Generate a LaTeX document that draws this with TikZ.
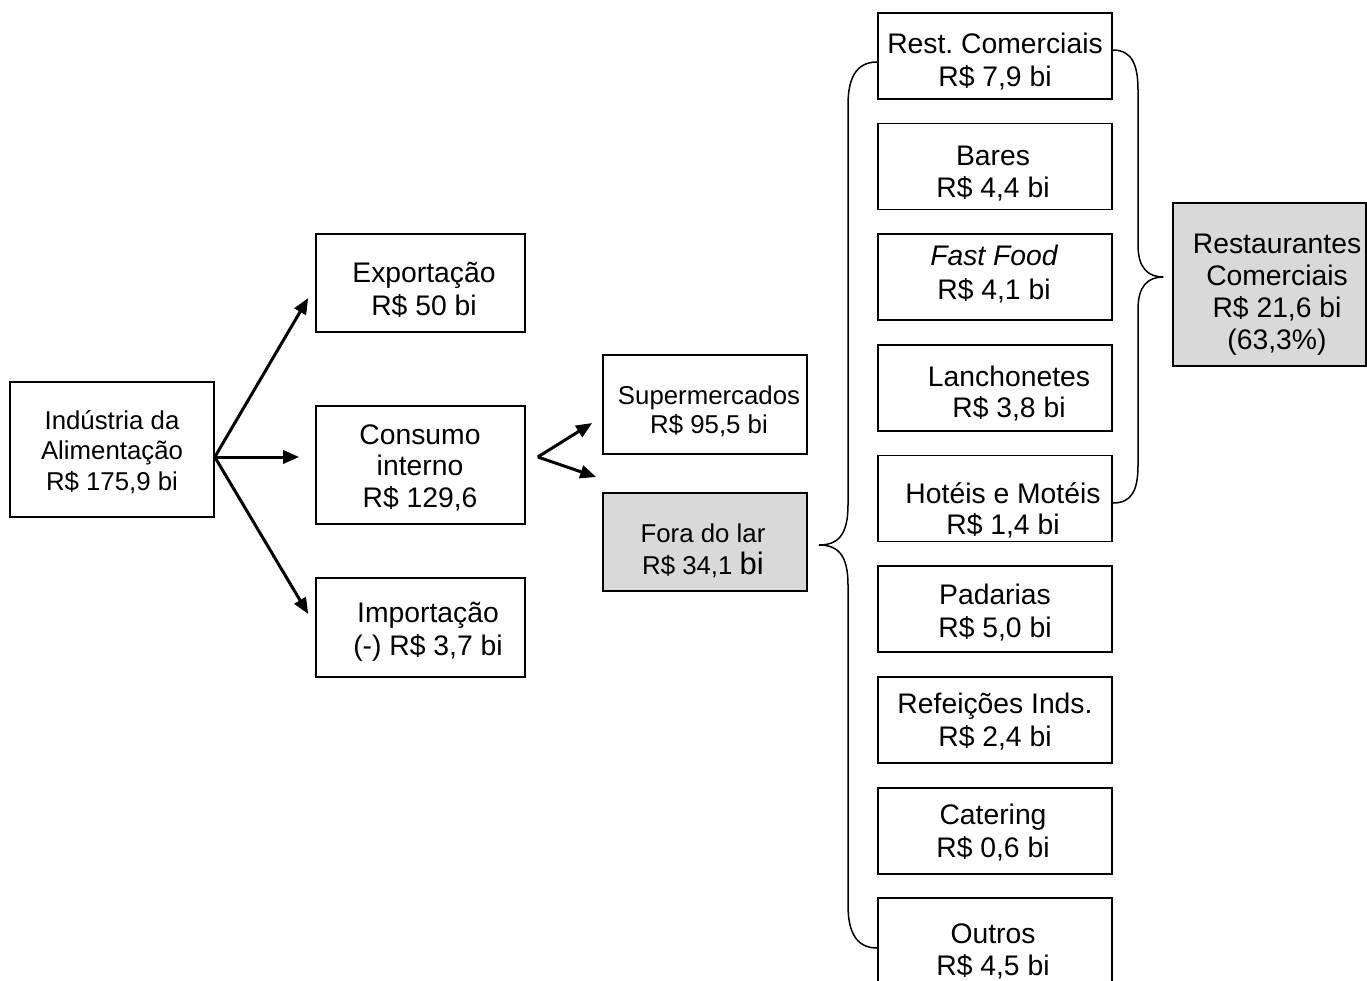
\documentclass[tikz,border=0pt]{standalone}
\usepackage{fontspec}
\setmainfont{Liberation Sans}
\usetikzlibrary{arrows.meta,calc}
\definecolor{boxgray}{HTML}{D9D9D9}
\frenchspacing
\begin{document}
\begin{tikzpicture}[x=1pt,y=-1pt,
  box/.style={draw=black, line width=1.6pt, inner sep=0pt},
  midbox/.style={box, minimum width=209pt, minimum height=98pt},
  colbox/.style={box, minimum width=234pt, minimum height=86pt},
  bigtxt/.style={align=center, inner sep=0pt, font=\fontsize{28.3}{32.5}\selectfont},
  smalltxt/.style={align=center, inner sep=0pt, font=\fontsize{25.8}{30}\selectfont},
  arr/.style={line width=3pt, -{Triangle[length=16pt,width=13pt]}},
  brace/.style={line width=1.5pt}]
\useasboundingbox (0,0) rectangle (1367,980);
\clip (0,0) rectangle (1367,980);
% boxes
\node[box, minimum width=204pt, minimum height=135pt] (ind) at (112,449.5) {};
\node[midbox] (exp) at (420.5,283) {};
\node[midbox, minimum height=118pt] (con) at (420.5,465) {};
\node[midbox, minimum height=99pt] (imp) at (420.5,627.5) {};
\node[box, minimum width=204pt, minimum height=99pt] (sup) at (705,404.5) {};
\node[box, fill=boxgray, minimum width=204pt, minimum height=98pt] (fora) at (705,542) {};
\node[colbox] (rest) at (995,56) {};
\node[colbox] (bares) at (995,166.5) {};
\node[colbox] (fast) at (995,277) {};
\node[colbox] (lanch) at (995,388) {};
\node[colbox] (hot) at (995,498.5) {};
\node[colbox] (pad) at (995,609) {};
\node[colbox] (ref) at (995,720) {};
\node[colbox] (cat) at (995,831) {};
\node[colbox] (out) at (995,941) {};
\node[box, fill=boxgray, minimum width=193pt, minimum height=163pt] (resta) at (1269.5,284.5) {};
% texts
\node[smalltxt, font=\fontsize{25.8}{30.5}\selectfont] (tind) at (112,452) {Indústria da\\Alimentação\\R\$ 175,9 bi};
\node[bigtxt] (texp) at (424,290) {Exportação\\R\$ 50 bi};
\node[bigtxt, font=\fontsize{28.3}{31.5}\selectfont] (tcon) at (420,467.5) {Consumo\\interno\\R\$ 129,6};
\node[bigtxt] (timp) at (428,632) {Importação\\(-) R\$ 3,7 bi};
\node[smalltxt, font=\fontsize{25.8}{29}\selectfont] (tsup) at (709,411) {Supermercados\\R\$ 95,5 bi};
\node[smalltxt, font=\fontsize{25.8}{32}\selectfont] (tfora) at (703,551) {Fora do lar\\R\$ 34,1 {\fontsize{31}{32}\selectfont bi}};
\node[bigtxt] (trest) at (995,61.5) {Rest. Comerciais\\R\$ 7,9 bi};
\node[bigtxt] (tbares) at (993,173.5) {Bares\\R\$ 4,4 bi};
\node[bigtxt, font=\fontsize{28.3}{34}\selectfont] (tfast) at (994,274.5) {{\itshape Fast Food}\\R\$ 4,1 bi};
\node[bigtxt, font=\fontsize{28.3}{31}\selectfont] (tlanch) at (1009,394) {Lanchonetes\\R\$ 3,8 bi};
\node[bigtxt, font=\fontsize{28.3}{31}\selectfont] (thot) at (1003,510) {Hotéis e Motéis\\R\$ 1,4 bi};
\node[bigtxt, font=\fontsize{28.3}{33}\selectfont] (tpad) at (995,613) {Padarias\\R\$ 5,0 bi};
\node[bigtxt, font=\fontsize{28.3}{33}\selectfont] (tref) at (995,722) {Refeições Inds.\\R\$ 2,4 bi};
\node[bigtxt] (tcat) at (993,832.5) {Catering\\R\$ 0,6 bi};
\node[bigtxt] (tout) at (993,951.5) {Outros\\R\$ 4,5 bi};
\node[bigtxt, font=\fontsize{28.3}{32}\selectfont] (tresta) at (1277,294.5) {Restaurantes\\Comerciais\\R\$ 21,6 bi\\(63,3\%)};
% arrows
\coordinate (o1) at ($(ind.east)+(0,7.5)$);
\coordinate (e1) at ($(exp.west)+(-7,15)$);
\coordinate (e2) at ($(con.west)+(-16,-8)$);
\coordinate (e3) at ($(imp.west)+(-7,-13.5)$);
\draw[arr] (o1) -- (e1);
\draw[arr] (o1) -- (e2);
\draw[arr] (o1) -- (e3);
\coordinate (o2) at ($(con.east)+(12,-8)$);
\coordinate (s1) at ($(sup.west)+(-10,18.5)$);
\coordinate (s2) at ($(fora.west)+(-6,-65)$);
\draw[arr] (o2) -- (s1);
\draw[arr] (o2) -- (s2);
% left brace
\coordinate (lb1) at ($(rest.west)+(0,6)$);
\coordinate (lbtip) at ($(fora.east)+(11,3)$);
\coordinate (lb2) at ($(out.west)+(0,7)$);
\draw[brace] (lb1) .. controls (855,62) and (848,80) .. (848,105)
  -- (848,505) .. controls (848,535) and (838,545) .. (lbtip)
  .. controls (838,545) and (848,555) .. (848,585)
  -- (848,905) .. controls (848,930) and (855,948) .. (lb2);
% right brace
\coordinate (rb1) at ($(rest.east)+(0,-6)$);
\coordinate (rbtip) at ($(resta.west)+(-9,-7.5)$);
\coordinate (rb2) at ($(hot.east)+(0,4.5)$);
\draw[brace] (rb1) .. controls (1132,50) and (1138,65) .. (1138,90)
  -- (1138,245) .. controls (1138,268) and (1148,277) .. (rbtip)
  .. controls (1148,277) and (1138,286) .. (1138,309)
  -- (1138,465) .. controls (1138,490) and (1132,503) .. (rb2);
\end{tikzpicture}
\end{document}
